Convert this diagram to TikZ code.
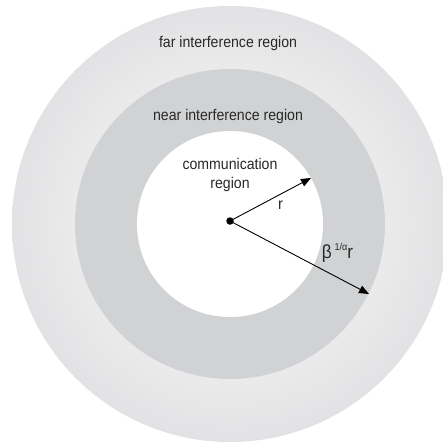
\documentclass[tikz,border=0pt]{standalone}
\usepackage{fontspec}
\setmainfont{Liberation Sans}
\usepackage{tikz}
\usetikzlibrary{arrows.meta}

\definecolor{faredge}{RGB}{226,226,228}
\definecolor{neargray}{RGB}{209,210,212}
\definecolor{labelgray}{RGB}{40,40,40}

\begin{document}
\begin{tikzpicture}[x=1pt,y=-1pt,
    region/.style={text=labelgray,font=\fontsize{15.5}{19}\selectfont,align=center,inner sep=0pt,xscale=0.91,transform shape},
    symb/.style={text=labelgray,font=\fontsize{19}{21}\selectfont,inner sep=0pt,xscale=0.91,transform shape},
    radius arrow/.style={-{Triangle[length=10pt,width=8pt]},line width=0.9pt}]

    \useasboundingbox (0,0) rectangle (443,445);
    % the three regions
    \begin{scope}
      \clip (0,0) rectangle (443,445);
      \shade[inner color=white,outer color=faredge] (230,224) circle (218);
    \end{scope}
    \fill[neargray] (230,224) circle (155);
    \fill[white] (230,224) circle (93);

    \node[region] (far) at (228,43) {far interference region};
    \node[region] (near) at (228,116) {near interference region};
    \node[region,text width=120pt] (comm) at (230,175) {communication\\region};

    % radii
    \node[circle,fill=black,inner sep=0pt,minimum size=7.5pt] (ctr) at (230,221) {};
    \coordinate (rend) at (311,178);
    \coordinate (bend) at (369,294);
    \draw[radius arrow] (ctr.center) -- (rend);
    \draw[radius arrow] (ctr.center) -- (bend);
    \node[symb,font=\fontsize{16}{18}\selectfont] (rlab) at (280.5,205) {r};
    \node[symb] (blab) at (337.5,253) {β\,\raisebox{7.5pt}{\fontsize{10}{10}\selectfont 1/α}r};
\end{tikzpicture}
\end{document}
